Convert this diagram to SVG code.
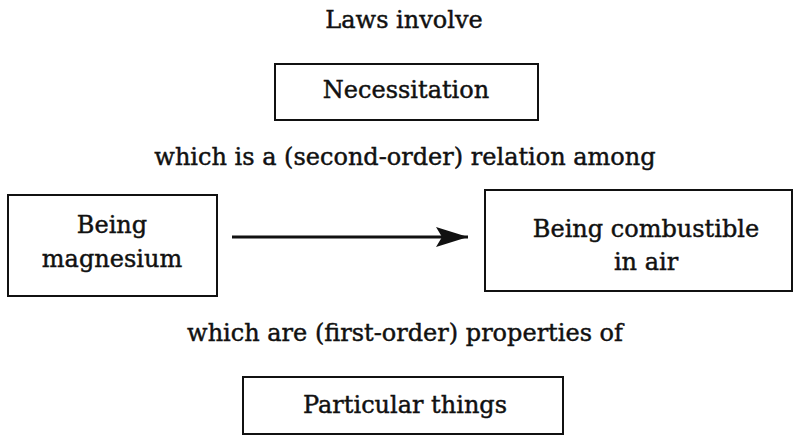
<svg xmlns="http://www.w3.org/2000/svg" width="797" height="438" viewBox="0 0 797 438">
<style>
text{font-family:"DejaVu Serif","Liberation Serif",serif;font-size:24px;fill:#111;stroke:#111;stroke-width:0.45;text-anchor:middle}
.box{fill:#fff;stroke:#111;stroke-width:2}
.conn{stroke:#111;stroke-width:3;fill:none}
</style>
<defs>
<marker id="ah" markerUnits="userSpaceOnUse" viewBox="0 0 32 20" refX="32" refY="10" markerWidth="32" markerHeight="20" orient="auto">
<path d="M0,0 L32,10 L0,20 L6,10 Z" fill="#111"/>
</marker>
</defs>
<rect width="797" height="438" fill="#fff"/>
<text x="404" y="28">Laws involve</text>
<g id="necessitation">
<rect class="box" x="275" y="64" width="263" height="56"/>
<text x="406" y="98">Necessitation</text>
</g>
<text x="405" y="165">which is a (second-order) relation among</text>
<g id="magnesium">
<rect class="box" x="8" y="195" width="209" height="101"/>
<text x="112" y="233">Being</text>
<text x="112" y="267">magnesium</text>
</g>
<g id="combustible">
<rect class="box" x="485" y="190" width="307" height="101"/>
<text x="646" y="237">Being combustible</text>
<text x="646" y="270">in air</text>
</g>
<text x="405" y="341">which are (first-order) properties of</text>
<g id="things">
<rect class="box" x="243" y="377" width="320" height="57"/>
<text x="405" y="413">Particular things</text>
</g>
<g id="connectors">
<line class="conn" x1="232" y1="237" x2="468" y2="237" marker-end="url(#ah)"/>
</g>
</svg>
